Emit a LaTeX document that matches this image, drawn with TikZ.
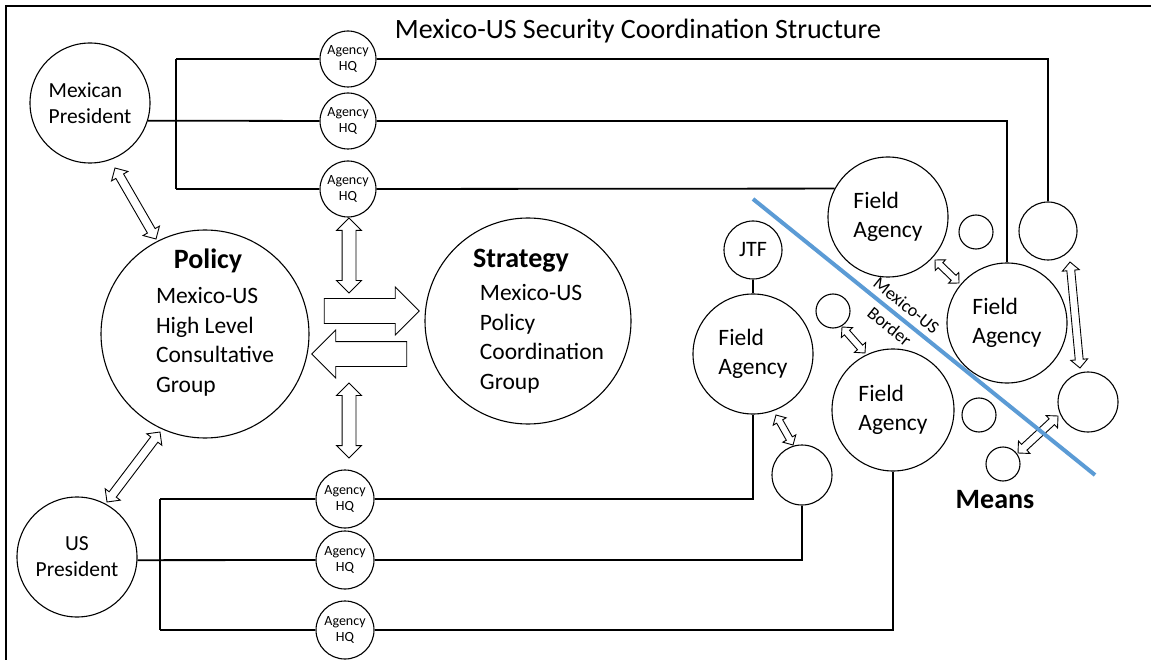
\documentclass[tikz,border=0pt]{standalone}
\usepackage{fontspec}
\setmainfont{Carlito}
\usetikzlibrary{calc,shapes.arrows}
\definecolor{bordblue}{RGB}{91,155,213}
\newcommand\dbarrow[5]{%
  \path let \p1=(#2), \p2=(#3), \n1={atan2(\y2-\y1,\x2-\x1)}, \n2={veclen(\x2-\x1,\y2-\y1)} in
  node[dbl, inner ysep=#4, double arrow head extend=#5, minimum height=\n2, rotate=\n1] (#1) at ($(\p1)!0.5!(\p2)$) {};}
\begin{document}
\begin{tikzpicture}[x=1pt,y=-1pt,
  circ/.style={circle, draw, line width=1.1pt, minimum size=#1, inner sep=0pt, fill=white},
  conn/.style={line width=1.8pt},
  lab/.style={font=\fontsize{23.5}{29.5}\selectfont, align=left, inner sep=0pt},
  labs/.style={font=\fontsize{21.5}{26}\selectfont, inner sep=0pt},
  head/.style={font=\bfseries\fontsize{28}{32}\selectfont, inner sep=0pt},
  hqtext/.style={font=\fontsize{14}{16}\selectfont, align=center},
  dbl/.style={double arrow, draw, fill=white, line width=0.9pt, inner xsep=0pt},
  blk/.style={single arrow, draw, fill=white, line width=0.9pt, inner xsep=0pt, inner ysep=12pt, single arrow head extend=11.5pt, minimum height=95pt},
  bline/.style={line width=4pt, color=bordblue}
]
\useasboundingbox (0,0) rectangle (1151,660);
% frame
\draw[line width=2.4pt] (6,660) -- (6,6) -- (1151,6);
% title
\node[font=\fontsize{28}{34}\selectfont, inner sep=0pt] (ttl) at (638,31) {Mexico-US Security Coordination Structure};

% main circles
\node[circ=120, labs, align=left] (mp) at (90,103) {Mexican\\President};
\node[circ=120, labs, align=center] (usp) at (77,557) {US\\President};
\node[circ=208] (pol) at (205,334) {};
\node[circ=206] (str) at (528,321) {};
\node[head] (polh) at (208,261) {Policy};
\node[lab] (polt) at (215,342) {Mexico-US\\High Level\\Consultative\\Group};
\node[head] (strh) at (521,261) {Strategy};
\node[lab] (strt) at (542,339) {Mexico-US\\Policy\\Coordination\\Group};

% agency HQ
\node[circ=56, hqtext] (hq1) at (348,59) {Agency\\HQ};
\node[circ=56, hqtext] (hq2) at (348,121) {Agency\\HQ};
\node[circ=56, hqtext] (hq3) at (348,189) {Agency\\HQ};
\node[circ=58, hqtext] (hq4) at (345,499) {Agency\\HQ};
\node[circ=58, hqtext] (hq5) at (345,560) {Agency\\HQ};
\node[circ=58, hqtext] (hq6) at (345,630) {Agency\\HQ};

% field side
\node[circ=58, font=\fontsize{22}{26}\selectfont] (jtf) at (753,250) {JTF};
\node[circ=120, lab] (fal) at (753,354) {Field\\Agency};
\node[circ=120, lab] (fat) at (888,217) {Field\\Agency};
\node[circ=120, lab] (far) at (1007,323) {Field\\Agency};
\node[circ=122, lab] (fab) at (893,410) {Field\\Agency};
\node[circ=34] (sc1) at (833,311) {};
\node[circ=60] (sc2) at (802,475) {};
\node[circ=34] (sc3) at (976,232) {};
\node[circ=34] (sc4) at (979,415) {};
\node[circ=34] (sc5) at (1003,464) {};
\node[circ=58] (trc) at (1048,231) {};
\node[circ=60] (rc) at (1088,402) {};
\node[head] (means) at (995,500) {Means};

% connectors top
\coordinate (mtl) at (176,59);
\coordinate (mbl) at (176,189);
\draw[conn] (mtl) -- (mbl);
\draw[conn] (mtl) -- (hq1);
\draw[conn] (mbl) -- (hq3);
\draw[conn] (mp.-17.5) -- (hq2);
\draw[conn] (hq1) -| (trc);
\draw[conn] (hq2) -| (far);
\draw[conn] (hq3) -- (fat.152.2);
% connectors bottom
\coordinate (ubl) at (160,499);
\coordinate (ubr) at (160,630);
\draw[conn] (ubl) -- (ubr);
\draw[conn] (ubl) -- (hq4);
\draw[conn] (ubr) -- (hq6);
\draw[conn] (usp.-3) -- (hq5);
\draw[conn] (hq4) -| (fal);
\draw[conn] (hq5) -| (sc2);
\draw[conn] (hq6) -| (fab);
\draw[conn] (jtf) -- (fal);

% block arrows
\node[blk] (ra) at (365.5,311) {};
\node[blk, rotate=180] (la) at (365.5,354) {};

% double arrows
\coordinate (a1s) at (115,168); \coordinate (a1e) at (156,239);
\coordinate (a2s) at (349,218); \coordinate (a2e) at (349,293);
\coordinate (a3s) at (349,383); \coordinate (a3e) at (349,458);
\coordinate (a4s) at (160,432); \coordinate (a4e) at (107,502);
\coordinate (a5s) at (935,260); \coordinate (a5e) at (959,283);
\coordinate (a6s) at (842,327); \coordinate (a6e) at (865,353);
\coordinate (a7s) at (776,415); \coordinate (a7e) at (793,445);
\coordinate (a8s) at (1070,262); \coordinate (a8e) at (1080,368);
\coordinate (a9s) at (1018,453); \coordinate (a9e) at (1058,416);
\dbarrow{da1}{a1s}{a1e}{4pt}{5pt}
\dbarrow{da2}{a2s}{a2e}{6.5pt}{5.5pt}
\dbarrow{da3}{a3s}{a3e}{6.5pt}{5.5pt}
\dbarrow{da4}{a4s}{a4e}{4pt}{5pt}
\dbarrow{da5}{a5s}{a5e}{3pt}{4pt}
\dbarrow{da6}{a6s}{a6e}{3pt}{4pt}
\dbarrow{da7}{a7s}{a7e}{3pt}{4pt}
\dbarrow{da8}{a8s}{a8e}{3.5pt}{4.5pt}
\dbarrow{da9}{a9s}{a9e}{3.5pt}{4.5pt}

% border line
\coordinate (bs) at (753,199);
\coordinate (be) at (1095,475);
\draw[bline] (bs) -- (be);
\node[font=\fontsize{18}{27}\selectfont, align=center, rotate=-38.9, inner sep=0pt] (blab) at (898,316) {Mexico-US\\Border};
\end{tikzpicture}
\end{document}
